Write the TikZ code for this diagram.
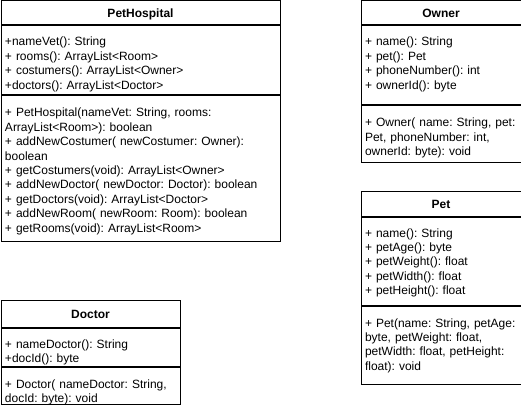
\documentclass[tikz,border=0pt]{standalone}
\usepackage{fontspec}
\setmainfont[Ligatures=NoCommon]{Liberation Sans}
\usetikzlibrary{positioning}
\frenchspacing

\begin{document}
\begin{tikzpicture}[
  x=1pt, y=-1pt,
  umltitle/.style={rectangle, draw, line width=1pt, minimum width=#1, minimum height=24pt, inner sep=0pt, text height=9pt, text depth=0pt, font=\fontsize{12}{14.4}\selectfont\bfseries},
  umlpart/.style={rectangle, draw, line width=1pt, text width=#1, inner xsep=4pt, inner ysep=0pt, align=left, text height=20pt, font=\fontsize{12}{14.4}\selectfont\frenchspacing}
]
\useasboundingbox (0,0) rectangle (521,414);
% PetHospital
\node[umltitle=279pt] (hosp) at (140.5,13) {PetHospital};
\node[umlpart=271pt, text depth=49pt, below=0pt of hosp] (hospattr)
  {+nameVet(): String\\ + rooms(): ArrayList<Room>\\ + costumers(): ArrayList<Owner>\\ +doctors(): ArrayList<Doctor>};
\node[umlpart=271pt, text height=21pt, text depth=124pt, below=0pt of hospattr] (hospops)
  {+ PetHospital(nameVet: String, rooms:\\ ArrayList<Room>): boolean\\ + addNewCostumer( newCostumer: Owner):\\ boolean\\
   + getCostumers(void): ArrayList<Owner>\\ + addNewDoctor( newDoctor: Doctor): boolean\\ + getDoctors(void): ArrayList<Doctor>\\
   + addNewRoom( newRoom: Room): boolean\\ + getRooms(void): ArrayList<Room>};
% Owner
\node[umltitle=160pt, right=80pt of hosp] (owner) {Owner};
\node[umlpart=152pt, text depth=59pt, below=0pt of owner] (ownerattr)
  {+ name(): String\\ + pet(): Pet\\ + phoneNumber(): int\\ + ownerId(): byte};
\node[umlpart=152pt, text height=21pt, text depth=35pt, below=0pt of ownerattr] (ownerops)
  {+ Owner( name: String, pet:\\ Pet, phoneNumber: int,\\ ownerId: byte): void};
% Pet
\node[umltitle=160pt, minimum height=25pt, below=28pt of ownerops] (pet) {Pet};
\node[umlpart=152pt, text depth=68pt, below=0pt of pet] (petattr)
  {+ name(): String\\ + petAge(): byte\\ + petWeight(): float\\ + petWidth(): float\\ + petHeight(): float};
\node[umlpart=152pt, text height=21pt, text depth=57pt, below=0pt of petattr] (petops)
  {+ Pet(name: String, petAge:\\ byte, petWeight: float,\\ petWidth: float, petHeight:\\ float): void};
% Doctor
\node[umltitle=179pt, minimum height=27pt, below=58pt of hospops.south west, anchor=north west] (doctor) {Doctor};
\node[umlpart=171pt, text depth=18pt, below=0pt of doctor] (docattr)
  {+ nameDoctor(): String\\ +docId(): byte};
\node[umlpart=171pt, text height=21pt, text depth=16pt, below=0pt of docattr] (docops)
  {+ Doctor( nameDoctor: String,\\ docId: byte): void};
\end{tikzpicture}
\end{document}
